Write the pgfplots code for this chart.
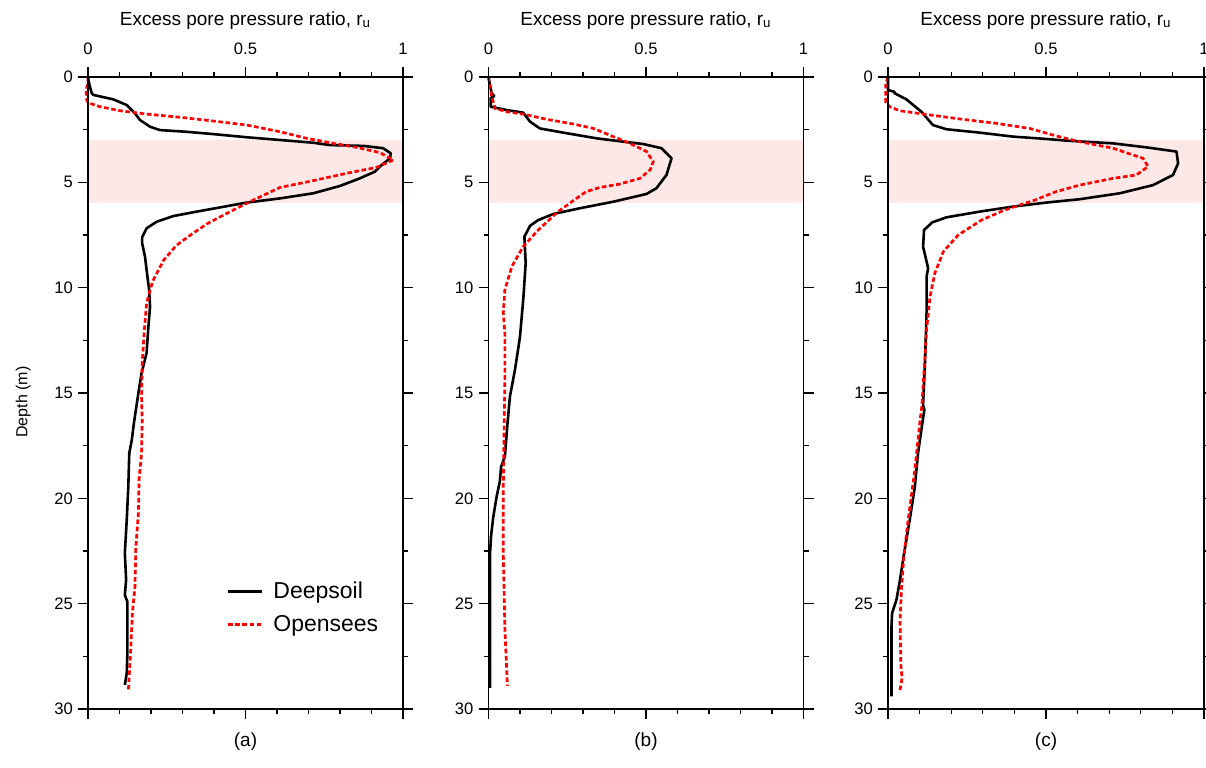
\documentclass[border=0pt]{standalone}
\usepackage{fontspec}
\setmainfont{Liberation Sans}
\usepackage{pgfplots}
\pgfplotsset{compat=1.18}

\definecolor{band}{RGB}{253,232,232}
\definecolor{osred}{RGB}{255,0,0}

\pgfplotsset{
  panel/.style={
    scale only axis,
    width=157.5pt, height=316pt,
    anchor=north west,
    xmin=0, xmax=1, ymin=0, ymax=30,
    y dir=reverse,
    clip=false,
    axis on top,
    axis line style={line width=0.7pt},
    tick style={line width=0.6pt, black},
    tick align=outside,
    major tick length=5pt,
    minor tick length=2.5pt,
    xtick={0,0.5,1},
    xticklabels={0,0.5,1},
    minor x tick num=4,
    ytick={0,5,...,30},
    minor y tick num=1,
    xtick pos=both, xticklabel pos=upper,
    ytick pos=both, yticklabel pos=left,
    tick label style={font=\fontsize{8.3}{9}\selectfont},
    xticklabel style={yshift=2.5pt},
    yticklabel style={xshift=1pt},
    /pgf/number format/assume math mode=true,
    xlabel={Excess pore pressure ratio, r\textsubscript{u}},
    xlabel style={font=\fontsize{9.5}{11}\selectfont},
    ylabel style={font=\fontsize{8}{10}\selectfont, yshift=5pt, xshift=-4.5pt},
  },
  deep/.style={black, line width=1.3pt, line join=round},
  open/.style={osred, line width=1.35pt, dash pattern=on 2.3pt off 1.3pt},
}

\begin{document}
\begin{tikzpicture}
\useasboundingbox (-44pt,38.5pt) rectangle (559pt,-345pt);

% (a)
\begin{axis}[panel, at={(0pt,0pt)},
  ylabel={Depth (m)},
  legend style={draw=none, fill=none, at={(0.42,0.215)}, anchor=north west,
    font=\fontsize{11.5}{13}\selectfont, row sep=3pt},
  legend cell align=left,
  legend image code/.code={\draw[#1] (0pt,0pt) -- (17pt,0pt); \path (20pt,0pt);},
]
\addplot[fill=band, draw=none, forget plot] coordinates {(0,3) (1,3) (1,6) (0,6)};
\addplot[deep] coordinates {
(0,0) (0.005,0.4) (0.012,0.77) (0.017,0.85) (0.08,1.06) (0.123,1.33) (0.149,1.72)
(0.165,2.04) (0.197,2.36) (0.229,2.52) (0.313,2.60) (0.398,2.71) (0.504,2.86)
(0.61,2.99) (0.715,3.12) (0.768,3.23) (0.874,3.27) (0.937,3.38) (0.961,3.62)
(0.959,3.86) (0.932,4.18) (0.911,4.49) (0.863,4.81) (0.80,5.17) (0.715,5.52)
(0.61,5.76) (0.504,5.96) (0.419,6.19) (0.345,6.39) (0.271,6.60) (0.218,6.87)
(0.186,7.18) (0.172,7.6) (0.172,7.9) (0.181,8.53) (0.186,9.16) (0.194,10.1)
(0.197,10.9) (0.191,12.0) (0.186,13.1) (0.170,14.06) (0.160,15.0) (0.152,15.8)
(0.146,16.4) (0.139,17.23) (0.131,17.86) (0.128,19.44) (0.123,21.03) (0.117,22.6)
(0.121,23.87) (0.117,24.6) (0.125,24.9) (0.125,27.35) (0.123,28.3) (0.117,28.86)
};
\addlegendentry{Deepsoil}
\addplot[open] coordinates {
(0,0) (0,0.3) (-0.006,0.6) (-0.006,1.0) (0,1.22) (0.038,1.41) (0.102,1.60)
(0.186,1.76) (0.292,1.91) (0.398,2.09) (0.504,2.28) (0.61,2.60) (0.694,2.91)
(0.768,3.12) (0.853,3.34) (0.927,3.59) (0.969,3.94) (0.916,4.29) (0.821,4.57)
(0.715,4.92) (0.61,5.24) (0.525,5.84) (0.45,6.4) (0.38,6.95) (0.33,7.45)
(0.28,8.0) (0.24,8.7) (0.205,9.7) (0.186,10.74) (0.179,12.0) (0.172,13.59)
(0.170,15.17) (0.172,16.3) (0.170,17.86) (0.162,19.13) (0.160,20.7) (0.152,22.3)
(0.149,24.2) (0.141,25.45) (0.135,27.35) (0.128,29.17)
};
\addlegendentry{Opensees}
\node[font=\fontsize{9.5}{11}\selectfont, yshift=-16.5pt] at (axis description cs:0.5,0) {(a)};
\end{axis}

% (b)
\begin{axis}[panel, at={(200.25pt,0pt)}]
\addplot[fill=band, draw=none, forget plot] coordinates {(0,3) (1,3) (1,6) (0,6)};
\addplot[deep] coordinates {
(0,0) (0.005,0.4) (0.01,0.77) (0.018,0.9) (0.007,1.0) (0.007,1.41) (0.058,1.57)
(0.11,1.69) (0.132,2.12) (0.163,2.44) (0.237,2.64) (0.343,2.91) (0.428,3.07)
(0.491,3.18) (0.549,3.38) (0.581,3.86) (0.565,4.65) (0.533,5.28) (0.502,5.55)
(0.396,5.92) (0.29,6.23) (0.206,6.5) (0.158,6.79) (0.132,7.06) (0.114,7.58)
(0.118,8.84) (0.111,10.43) (0.1,12.33) (0.084,13.9) (0.068,15.17) (0.06,16.5)
(0.052,18.02) (0.04,18.5) (0.036,19.2) (0.026,19.9) (0.015,20.9) (0.008,21.8)
(0.005,22.6) (0.005,29.0)
};
\addplot[open] coordinates {
(0,0) (0.01,0.9) (0.021,1.49) (0.058,1.65) (0.11,1.76) (0.185,2.01) (0.269,2.23)
(0.333,2.44) (0.396,2.83) (0.449,3.15) (0.502,3.54) (0.523,4.02) (0.513,4.41)
(0.481,4.81) (0.417,5.08) (0.354,5.24) (0.31,5.44) (0.272,5.84) (0.22,6.4)
(0.158,7.26) (0.11,8.05) (0.074,9.0) (0.052,10.1) (0.047,11.2) (0.052,12.17)
(0.052,14.4) (0.05,16.3) (0.047,19.44) (0.047,22.6) (0.052,26.2) (0.06,28.9)
};
\node[font=\fontsize{9.5}{11}\selectfont, yshift=-16.5pt] at (axis description cs:0.5,0) {(b)};
\end{axis}

% (c)
\begin{axis}[panel, at={(400pt,0pt)}, width=158pt]
\addplot[fill=band, draw=none, forget plot] coordinates {(0,3) (1,3) (1,6) (0,6)};
\addplot[deep] coordinates {
(0,0) (0,0.62) (0.02,0.7) (0.021,0.77) (0.058,1.06) (0.106,1.65) (0.142,2.28)
(0.185,2.48) (0.29,2.64) (0.396,2.83) (0.501,2.94) (0.565,3.02) (0.712,3.15)
(0.818,3.34) (0.913,3.54) (0.918,4.1) (0.902,4.65) (0.839,5.13) (0.733,5.52)
(0.607,5.80) (0.501,5.96) (0.396,6.15) (0.29,6.39) (0.185,6.66) (0.14,6.9)
(0.114,7.26) (0.111,8.05) (0.127,9.08) (0.122,9.48) (0.122,11.22) (0.117,13.59)
(0.111,15.57) (0.115,15.8) (0.108,16.5) (0.095,17.86) (0.085,19.44) (0.069,21.0)
(0.051,22.6) (0.038,23.87) (0.027,24.8) (0.013,25.45) (0.011,26.1) (0.011,29.4)
};
\addplot[open] coordinates {
(0,0) (-0.007,0.3) (-0.007,1.2) (0.005,1.41) (0.037,1.6) (0.132,1.8) (0.237,2.01)
(0.343,2.2) (0.448,2.44) (0.533,2.8) (0.607,3.07) (0.712,3.38) (0.807,3.86)
(0.823,4.25) (0.786,4.65) (0.712,4.81) (0.607,5.13) (0.53,5.45) (0.465,5.84)
(0.37,6.31) (0.296,6.79) (0.222,7.5) (0.175,8.29) (0.148,9.32) (0.133,10.43)
(0.122,12.0) (0.115,13.75) (0.107,15.65) (0.1,16.5) (0.085,18.65) (0.064,21.0)
(0.051,22.6) (0.043,24.2) (0.038,25.8) (0.041,28.1) (0.045,28.5) (0.038,29.1)
};
\node[font=\fontsize{9.5}{11}\selectfont, yshift=-16.5pt] at (axis description cs:0.5,0) {(c)};
\end{axis}
\end{tikzpicture}
\end{document}
